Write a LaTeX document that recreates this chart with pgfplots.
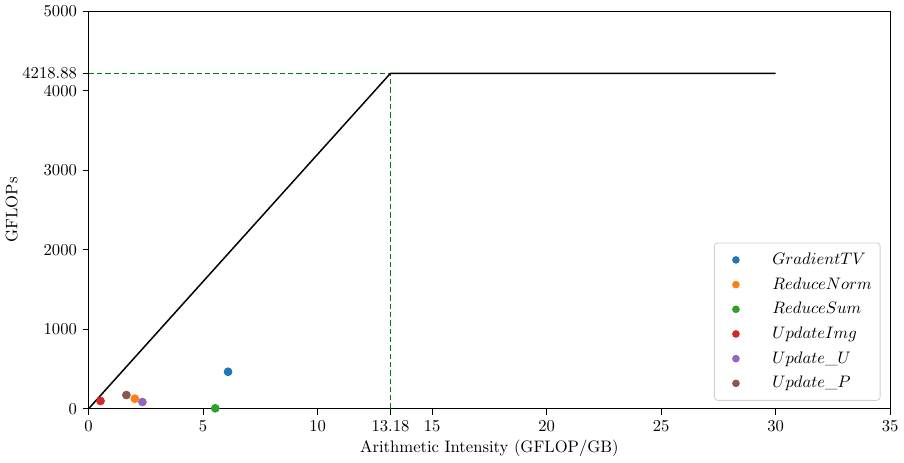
\documentclass[border=0pt]{standalone}
\usepackage{pgfplots}
\pgfplotsset{compat=1.18}

\definecolor{c0}{HTML}{1F77B4}
\definecolor{c1}{HTML}{FF7F0E}
\definecolor{c2}{HTML}{2CA02C}
\definecolor{c3}{HTML}{D62728}
\definecolor{c4}{HTML}{9467BD}
\definecolor{c5}{HTML}{8C564B}
\definecolor{guidegreen}{HTML}{008000}

\begin{document}
\begin{tikzpicture}
\begin{axis}[
  scale only axis,
  width=482pt, height=239pt,
  xmin=0, xmax=35, ymin=0, ymax=5000,
  xtick={0,5,10,13.18,15,20,25,30,35},
  xticklabels={0,5,10,13.18,15,20,25,30,35},
  ytick={0,1000,2000,3000,4000,4218.88,5000},
  yticklabels={0,1000,2000,3000,4000,4218.88,5000},
  scaled ticks=false,
  tick pos=left,
  tick align=outside,
  major tick length=3.5pt,
  tick style={black, line width=0.5pt},
  axis line style={line width=0.5pt},
  xlabel={Arithmetic Intensity (GFLOP/GB)},
  ylabel={GFLOPs},
  xlabel style={yshift=2pt},
  ylabel style={yshift=-4pt},
  legend cell align=left,
  legend style={at={(rel axis cs:0.988,0.02)}, anchor=south east,
    draw=black!18, rounded corners=2pt, line width=0.5pt,
    font=\normalsize, row sep=2.4pt, inner xsep=3pt, inner ysep=4pt},
  legend image code/.code={%
    \path[draw=none,fill=none] (0cm,0cm) -- (1.05cm,0cm);
    \fill[#1,draw=none] (0.35cm,0cm) circle (2.3pt);},
  legend entries={$GradientTV$,$ReduceNorm$,$ReduceSum$,$UpdateImg$,$Update\_U$,$Update\_P$},
]
% kernel measurements
\addplot[only marks, mark=*, mark size=2.4pt, color=c0] coordinates {(6.09,465)};
\addplot[only marks, mark=*, mark size=2.4pt, color=c1] coordinates {(2.02,126)};
\addplot[only marks, mark=*, mark size=2.4pt, color=c2] coordinates {(5.53,5)};
\addplot[only marks, mark=*, mark size=2.4pt, color=c3] coordinates {(0.52,97)};
\addplot[only marks, mark=*, mark size=2.4pt, color=c4] coordinates {(2.35,84)};
\addplot[only marks, mark=*, mark size=2.4pt, color=c5] coordinates {(1.65,172)};
% ridge point guides
\addplot[draw=guidegreen, line width=0.9pt, dash pattern=on 3.2pt off 1.8pt, forget plot]
  coordinates {(0,4218.88) (13.18,4218.88) (13.18,0)};
% roofline: memory-bound slope, then compute ceiling
\addplot[color=black, line width=0.9pt, forget plot] coordinates {(0,0) (13.18,4218.88) (30,4218.88)};
\end{axis}
\end{tikzpicture}
\end{document}
